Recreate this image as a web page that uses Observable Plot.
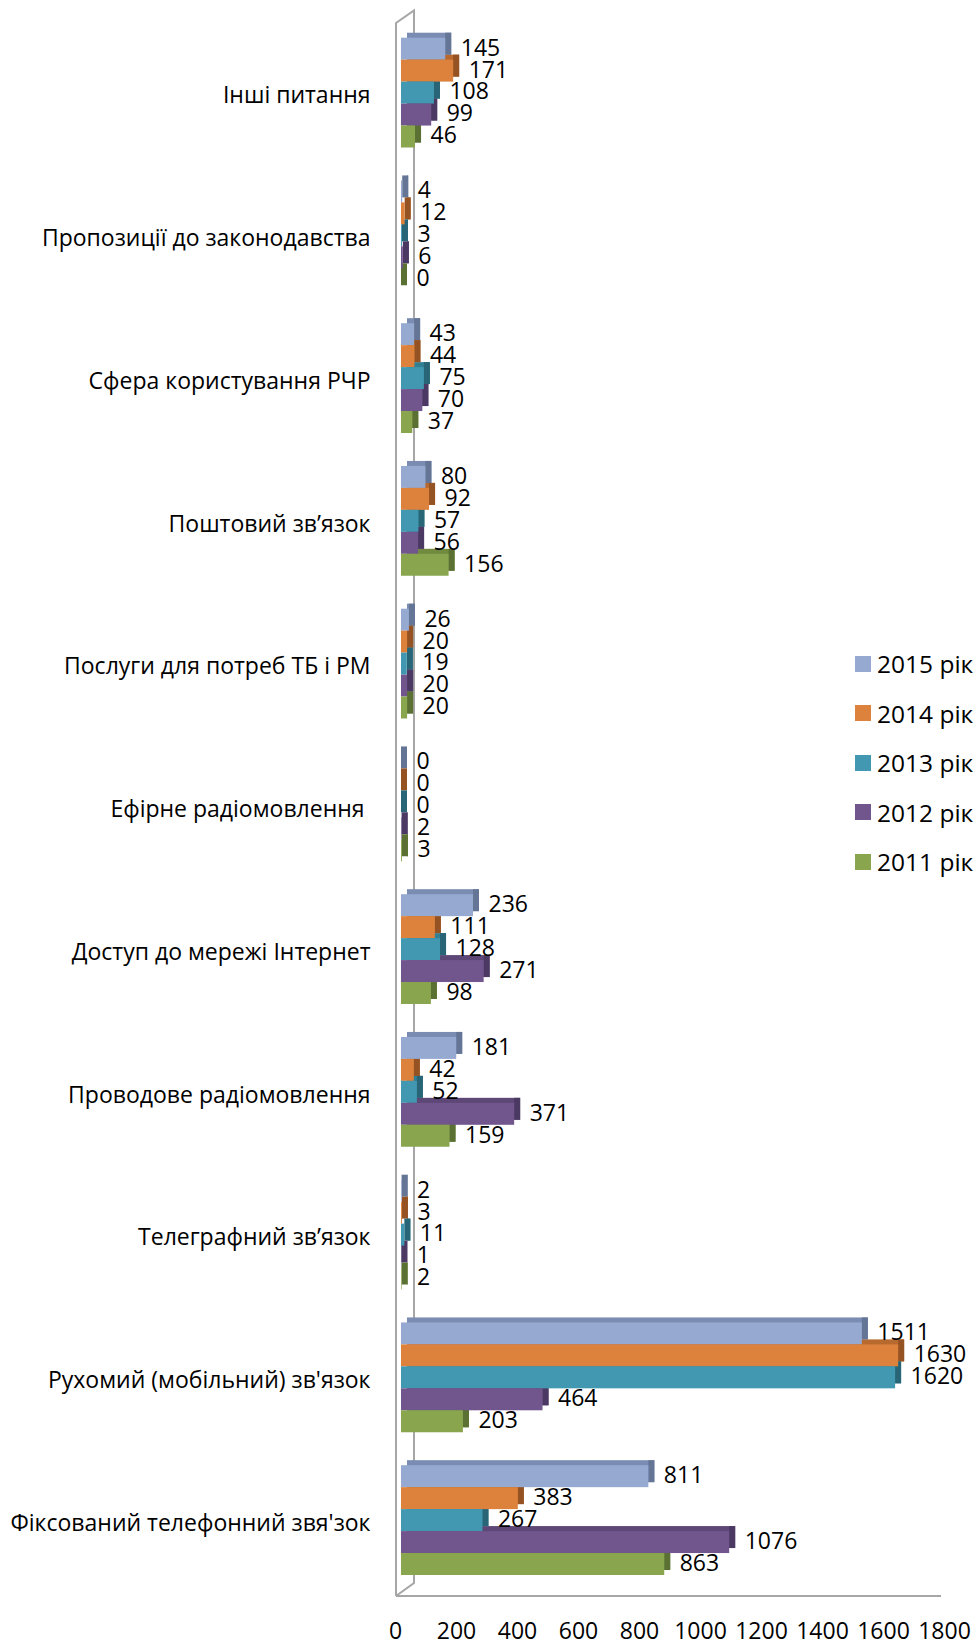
<!DOCTYPE html>
<html>
<head>
<meta charset="utf-8">
<script src="https://cdn.jsdelivr.net/npm/d3@7"></script>
<script src="https://cdn.jsdelivr.net/npm/@observablehq/plot@0.6"></script>
<style>
  html, body { margin: 0; padding: 0; background: #fff; }
  #wrap { position: relative; width: 979px; height: 1644px; font-family: "Open Sans", sans-serif; }
  #legend { position: absolute; left: 855px; top: 639px; }
  .lg { display: flex; align-items: center; height: 49.5px; font-size: 24.5px; color: #000; white-space: nowrap; }
  .sw { width: 16px; height: 16px; margin-right: 6px; flex: none; }
</style>
</head>
<body>
<div id="wrap"><div id="legend"></div></div>
<script>
const categories = [
  "Інші питання",
  "Пропозиції до законодавства",
  "Сфера користування РЧР",
  "Поштовий зв’язок",
  "Послуги для потреб ТБ і РМ",
  "Ефірне радіомовлення ",
  "Доступ до мережі Інтернет",
  "Проводове радіомовлення",
  "Телеграфний зв’язок",
  "Рухомий (мобільний) зв'язок",
  "Фіксований телефонний звя'зок"
];
const years = ["2015 рік", "2014 рік", "2013 рік", "2012 рік", "2011 рік"];
const v2015 = [145, 4, 43, 80, 26, 0, 236, 181, 2, 1511, 811];
const v2014 = [171, 12, 44, 92, 20, 0, 111, 42, 3, 1630, 383];
const v2013 = [108, 3, 75, 57, 19, 0, 128, 52, 11, 1620, 267];
const v2012 = [99, 6, 70, 56, 20, 2, 271, 371, 1, 464, 1076];
const v2011 = [46, 0, 37, 156, 20, 3, 98, 159, 2, 203, 863];
const xTicks = [0, 200, 400, 600, 800, 1000, 1200, 1400, 1600, 1800];

const faceColors = ["#95a9d1", "#dc823d", "#4198b0", "#71568e", "#89a54e"];
const topColors  = ["#7a8cb2", "#b8692d", "#337f93", "#5d4776", "#718a3f"];
const sideColors = ["#647596", "#955222", "#286576", "#4b3964", "#5b7133"];

const series = [v2015, v2014, v2013, v2012, v2011];
const rows = categories.flatMap((cat, i) =>
  series.map((vals, j) => ({cat, i, j, year: years[j], value: vals[i]}))
);

const G = 6.5; // group stride in bar units
const y1 = d => d.i * G + d.j;
const y2 = d => d.i * G + d.j + 1;

const plot = Plot.plot({
  width: 979,
  height: 1644,
  marginLeft: 401,
  marginRight: 29,
  marginTop: 37,
  marginBottom: 48,
  style: {fontFamily: "Open Sans, sans-serif", fontSize: "23px", color: "#000", background: "transparent"},
  x: {domain: [0, 1800], axis: null},
  y: {domain: [0, 70], range: [37.7, 1575], axis: null},
  color: {type: "identity"},
  marks: [
    // top face
    Plot.rect(rows, {x1: d => 0, x2: "value", y1, y2, fill: d => topColors[d.j], dx: 6, dy: -5}),
    // side face
    Plot.rect(rows, {x1: "value", x2: "value", y1, y2, fill: d => sideColors[d.j], insetRight: -6, dy: -5}),
    // front face
    Plot.rect(rows, {x1: d => 0, x2: "value", y1, y2, fill: d => faceColors[d.j]}),
    Plot.text(rows, {x: "value", y: d => d.i * G + d.j + 0.5, text: d => String(d.value), textAnchor: "start", dx: 15, dy: -1, fill: "#000"}),
    Plot.text(categories, {frameAnchor: "left", y: (d, i) => i * G + 2.5, text: d => d, textAnchor: "end", dx: -31, dy: 3, fill: "#000"}),
    Plot.text(xTicks, {x: d => d, frameAnchor: "bottom", text: d => String(d), dy: 42, dx: -6, fill: "#000"})
  ]
});

// 3D wall / floor outline
const svg = d3.select(plot);
const xs = plot.scale("x");
const x0 = xs.apply(0);
const front = x0 - 5, back = x0 + 13;
const bottom = 1644 - 48;
const g = svg.insert("g", ":first-child").attr("fill", "none").attr("stroke", "#a6a6a6").attr("stroke-width", 2);
g.append("path").attr("d", `M${front},${bottom} L${front},23 L${back},10.5 L${back},${bottom - 13} L${front},${bottom}`);
g.append("path").attr("d", `M${front},${bottom} L${xs.apply(1800) - 9},${bottom}`);

document.getElementById("wrap").prepend(plot);

const legend = document.getElementById("legend");
years.forEach((y, j) => {
  const row = document.createElement("div");
  row.className = "lg";
  row.innerHTML = `<span class="sw" style="background:${faceColors[j]}"></span><span>${y}</span>`;
  legend.appendChild(row);
});
</script>
</body>
</html>
